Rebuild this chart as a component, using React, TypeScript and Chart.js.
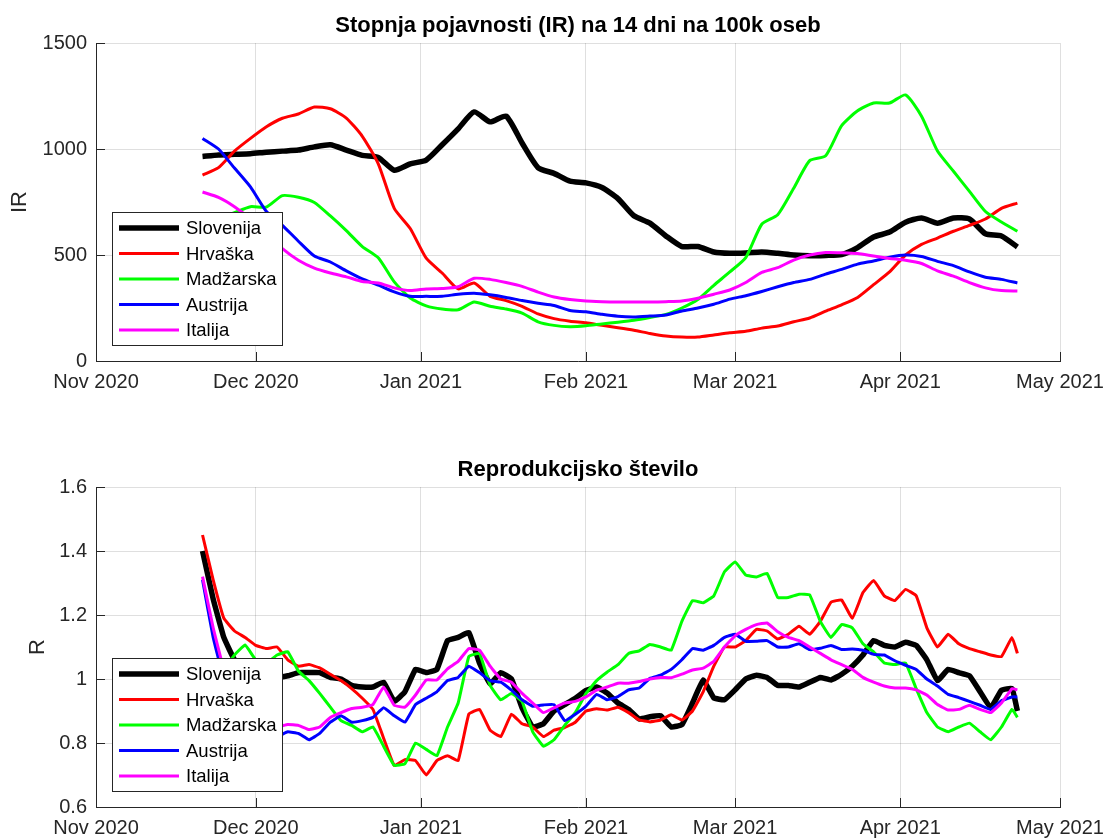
import React, { useEffect, useRef } from "react";
import { Chart, registerables } from "chart.js";

Chart.register(...registerables);

const FONT_FAMILY = '"Liberation Sans", Arial, Helvetica, sans-serif';
const AXIS_COLOR = "#262626";
const GRID_COLOR = "rgba(38,38,38,0.15)";

// x axis: days since 1 Nov 2020
const MONTH_TICK_DAYS = [0, 30, 61, 92, 120, 151, 181];
const MONTH_LABELS = ["Nov 2020", "Dec 2020", "Jan 2021", "Feb 2021", "Mar 2021", "Apr 2021", "May 2021"];

const COUNTRIES = ["Slovenija", "Hrvaška", "Madžarska", "Austrija", "Italija"];
const COLORS = ["#000000", "#ff0000", "#00ff00", "#0000ff", "#ff00ff"];
const LINE_WIDTHS = [5.5, 3, 3, 3, 3];

// ---------- IR (14-day incidence per 100k) ----------
const IR_TITLE = "Stopnja pojavnosti (IR) na 14 dni na 100k oseb";
const IR_TICKS = [0, 500, 1000, 1500];
const IR_TICK_LABELS = ["0", "500", "1000", "1500"];
const IR_DAYS = [
  20, 23, 26, 29, 32, 35, 38, 41, 44, 47, 50, 53, 56, 59, 62, 65, 68, 71, 74, 77,
  80, 83, 86, 89, 92, 95, 98, 101, 104, 107, 110, 113, 116, 119, 122, 125, 128, 131, 134, 137,
  140, 143, 146, 149, 152, 155, 158, 161, 164, 167, 170, 173,
];
const IR_SLO = [
  965, 972, 975, 978, 985, 990, 995, 1010, 1020, 995, 970, 960, 900, 930, 948, 1020, 1095, 1175, 1128, 1155,
  1028, 912, 885, 848, 840, 818, 766, 685, 650, 590, 540, 540, 514, 508, 510, 514, 508, 500, 496, 498,
  502, 535, 585, 608, 655, 675, 650, 675, 670, 600, 590, 538,
];
const IR_HRV = [
  877, 912, 990, 1050, 1105, 1145, 1165, 1198, 1190, 1146, 1060, 930, 720, 625, 485, 415, 340, 368, 305, 285,
  258, 222, 200, 188, 180, 168, 157, 145, 130, 118, 113, 113, 123, 133, 140, 155, 165, 185, 203, 235,
  265, 300, 360, 420, 500, 550, 580, 612, 640, 670, 720, 745,
];
const IR_HUN = [
  640, 670, 700, 728, 726, 780, 772, 748, 684, 615, 540, 487, 373, 297, 260, 245, 242, 278, 258, 245,
  226, 185, 168, 162, 166, 175, 183, 192, 205, 220, 250, 290, 357, 420, 488, 645, 690, 815, 945, 968,
  1110, 1180, 1217, 1217, 1255, 1155, 990, 895, 800, 705, 656, 612,
];
const IR_AUT = [
  1050, 1000, 910, 821, 705, 640, 565, 495, 467, 425, 387, 358, 326, 305, 305, 305, 315, 320, 312, 300,
  285, 272, 262, 238, 232, 220, 211, 208, 212, 217, 236, 250, 268, 292, 308, 328, 350, 370, 385, 410,
  432, 457, 472, 490, 500, 493, 470, 450, 420, 395, 385, 368,
];
const IR_ITA = [
  797, 772, 728, 670, 600, 530, 475, 438, 415, 397, 375, 368, 345, 332, 340, 342, 350, 390, 385, 370,
  352, 325, 302, 290, 283, 280, 278, 278, 278, 280, 283, 296, 315, 335, 370, 418, 440, 476, 500, 512,
  511, 507, 495, 484, 475, 460, 425, 400, 370, 345, 332, 330,
];

// ---------- R (reproduction number) ----------
const R_TITLE = "Reprodukcijsko število";
const R_TICKS = [0.6, 0.8, 1, 1.2, 1.4, 1.6];
const R_TICK_LABELS = ["0.6", "0.8", "1", "1.2", "1.4", "1.6"];
const R_DAYS = [
  20, 22, 24, 26, 28, 30, 32, 34, 36, 38, 40, 42, 44, 46, 48, 50, 52, 54, 56, 58,
  60, 62, 64, 66, 68, 70, 72, 74, 76, 78, 80, 82, 84, 86, 88, 90, 92, 94, 96, 98,
  100, 102, 104, 106, 108, 110, 112, 114, 116, 118, 120, 122, 124, 126, 128, 130, 132, 134, 136, 138,
  140, 142, 144, 146, 148, 150, 152, 154, 156, 158, 160, 162, 164, 166, 168, 170, 172, 173,
];
const R_SLO = [
  1.40, 1.25, 1.13, 1.06, 1.03, 1.02, 1.01, 1.005, 1.01, 1.02,
  1.02, 1.02, 1.005, 1.0, 0.98, 0.975, 0.975, 0.99, 0.93, 0.96,
  1.03, 1.02, 1.03, 1.12, 1.13, 1.145, 1.05, 0.985, 1.02, 1.0,
  0.91, 0.85, 0.86, 0.9, 0.92, 0.94, 0.964, 0.975, 0.956, 0.925,
  0.905, 0.875, 0.882, 0.885, 0.85, 0.857, 0.925, 0.997, 0.941, 0.935,
  0.966, 1.0, 1.012, 1.005, 0.98, 0.98, 0.975, 0.99, 1.005, 0.997,
  1.015, 1.04, 1.075, 1.12, 1.105, 1.1, 1.115, 1.105, 1.06, 0.995,
  1.03, 1.02, 1.01, 0.96, 0.91, 0.965, 0.97, 0.9,
];
const R_HRV = [
  1.45, 1.31, 1.19, 1.15, 1.13, 1.105, 1.095, 1.1, 1.06, 1.04,
  1.045, 1.035, 1.015, 0.995, 0.97, 0.94, 0.905, 0.815, 0.73, 0.748,
  0.745, 0.7, 0.745, 0.76, 0.745, 0.89, 0.905, 0.84, 0.82, 0.89,
  0.86, 0.85, 0.82, 0.84, 0.848, 0.865, 0.9, 0.907, 0.903, 0.912,
  0.895, 0.872, 0.866, 0.872, 0.888, 0.872, 0.9, 0.96, 1.04, 1.1,
  1.1, 1.12, 1.155, 1.15, 1.125, 1.14, 1.165, 1.14, 1.18, 1.24,
  1.247, 1.19, 1.27, 1.308, 1.26, 1.245, 1.28, 1.26, 1.16, 1.1,
  1.14, 1.11, 1.095, 1.085, 1.075, 1.07, 1.13, 1.08,
];
const R_HUN = [
  0.98, 1.0, 1.03, 1.075, 1.106, 1.06, 1.05, 1.075, 1.085, 1.025,
  0.995, 0.955, 0.912, 0.87, 0.855, 0.835, 0.85, 0.79, 0.73, 0.735,
  0.8, 0.78, 0.76, 0.85, 0.925, 1.07, 1.08, 0.98, 0.935, 0.955,
  0.93, 0.835, 0.79, 0.81, 0.855, 0.895, 0.955, 0.995, 1.022, 1.045,
  1.08, 1.088, 1.108, 1.1, 1.09, 1.18, 1.245, 1.238, 1.26, 1.335,
  1.366, 1.325, 1.319, 1.33, 1.255, 1.255, 1.265, 1.263, 1.18, 1.13,
  1.17, 1.16, 1.11, 1.085, 1.05, 1.045, 1.05, 0.97, 0.895, 0.85,
  0.835, 0.85, 0.862, 0.835, 0.81, 0.85, 0.905, 0.88,
];
const R_AUT = [
  1.31, 1.13, 1.0, 0.93, 0.88, 0.86, 0.84, 0.82, 0.835, 0.83,
  0.81, 0.83, 0.865, 0.885, 0.865, 0.87, 0.88, 0.91, 0.885, 0.865,
  0.92, 0.94, 0.96, 0.995, 1.005, 1.04, 1.02, 0.995, 0.99, 0.965,
  0.935, 0.915, 0.919, 0.92, 0.87, 0.89, 0.915, 0.952, 0.935, 0.945,
  0.966, 0.972, 1.002, 1.012, 1.03, 1.06, 1.095, 1.09, 1.105, 1.13,
  1.14, 1.118, 1.118, 1.12, 1.1, 1.1, 1.11, 1.092, 1.096, 1.105,
  1.092, 1.094, 1.09, 1.077, 1.075, 1.057, 1.043, 1.03, 1.0, 0.978,
  0.952, 0.942, 0.93, 0.918, 0.905, 0.932, 0.944, 0.944,
];
const R_ITA = [
  1.32, 1.16, 1.03, 0.95, 0.9, 0.87, 0.86, 0.85, 0.858, 0.855,
  0.842, 0.85, 0.88, 0.895, 0.908, 0.912, 0.92, 0.975, 0.918, 0.912,
  0.95, 0.997, 0.997, 1.032, 1.055, 1.095, 1.09, 1.04, 1.0, 0.99,
  0.955, 0.925, 0.895, 0.91, 0.925, 0.93, 0.944, 0.965, 0.975, 0.987,
  0.987, 0.992, 1.0, 1.005, 1.004, 1.015, 1.028, 1.034, 1.055, 1.1,
  1.135, 1.155, 1.17, 1.175, 1.148, 1.13, 1.12, 1.1, 1.08, 1.06,
  1.045, 1.03, 1.005, 0.99, 0.978, 0.972, 0.972, 0.966, 0.95, 0.92,
  0.903, 0.905, 0.918, 0.905, 0.895, 0.925, 0.97, 0.966,
];

const IR_SERIES = [IR_SLO, IR_HRV, IR_HUN, IR_AUT, IR_ITA];
const R_SERIES = [R_SLO, R_HRV, R_HUN, R_AUT, R_ITA];

// MATLAB-style inward tick marks
const innerTicksPlugin = {
  id: "innerTicks",
  beforeDatasetsDraw(chart: any) {
    const { ctx, chartArea, scales } = chart;
    ctx.save();
    ctx.strokeStyle = AXIS_COLOR;
    ctx.lineWidth = 1;
    ctx.beginPath();
    scales.x.ticks.forEach((t: any) => {
      const px = Math.round(scales.x.getPixelForValue(t.value)) + 0.5;
      ctx.moveTo(px, chartArea.bottom);
      ctx.lineTo(px, chartArea.bottom - 9);
    });
    scales.y.ticks.forEach((t: any) => {
      const py = Math.round(scales.y.getPixelForValue(t.value)) + 0.5;
      ctx.moveTo(chartArea.left, py);
      ctx.lineTo(chartArea.left + 9, py);
    });
    ctx.stroke();
    ctx.restore();
  },
};

// MATLAB-style boxed legend in the south-west corner
const boxLegendPlugin = {
  id: "boxLegend",
  afterDatasetsDraw(chart: any) {
    const { ctx, chartArea } = chart;
    const w = 170;
    const h = 133;
    const x0 = Math.round(chartArea.left + 16);
    const y0 = Math.round(chartArea.bottom - 16 - h);
    ctx.save();
    ctx.fillStyle = "#ffffff";
    ctx.fillRect(x0, y0, w, h);
    ctx.strokeStyle = AXIS_COLOR;
    ctx.lineWidth = 1;
    ctx.strokeRect(x0 + 0.5, y0 + 0.5, w, h);
    ctx.font = `18.5px ${FONT_FAMILY}`;
    ctx.textBaseline = "middle";
    ctx.textAlign = "left";
    chart.data.datasets.forEach((ds: any, i: number) => {
      const y = y0 + 16 + i * 25.5;
      ctx.strokeStyle = ds.borderColor;
      ctx.lineWidth = ds.borderWidth;
      ctx.lineCap = "butt";
      ctx.beginPath();
      ctx.moveTo(x0 + 7, y);
      ctx.lineTo(x0 + 67, y);
      ctx.stroke();
      ctx.fillStyle = "#000000";
      ctx.fillText(ds.label, x0 + 74, y + 1);
    });
    ctx.restore();
  },
};

type PanelSpec = {
  title: string;
  titlePadTop: number;
  yTitle: string;
  yTitlePad: number;
  yMin: number;
  yMax: number;
  yTicks: number[];
  yTickLabels: string[];
  days: number[];
  series: number[][];
  xAxisHeight: number;
  tension: number;
};

function buildConfig(p: PanelSpec): any {
  const datasets = COUNTRIES.map((name, i) => ({
    label: name,
    data: p.days.map((d, j) => ({ x: d, y: p.series[i][j] })),
    borderColor: COLORS[i],
    backgroundColor: COLORS[i],
    borderWidth: LINE_WIDTHS[i],
    pointRadius: 0,
    pointHoverRadius: 0,
    fill: false,
    tension: p.tension,
    borderJoinStyle: "round",
    borderCapStyle: "butt",
    order: COUNTRIES.length - 1 - i,
  }));
  return {
    type: "line",
    data: { datasets },
    options: {
      animation: false,
      responsive: false,
      devicePixelRatio: 1,
      events: [],
      layout: { padding: { left: 0, right: 48, top: 0, bottom: 0 } },
      plugins: {
        legend: { display: false },
        tooltip: { enabled: false },
        title: {
          display: true,
          text: p.title,
          fullSize: false,
          color: "#000000",
          font: { family: FONT_FAMILY, size: 22, weight: "bold", lineHeight: 1.2 },
          padding: { top: p.titlePadTop, bottom: 3.6 },
        },
      },
      scales: {
        x: {
          type: "linear",
          min: 0,
          max: 181,
          afterBuildTicks: (scale: any) => {
            scale.ticks = MONTH_TICK_DAYS.map((v) => ({ value: v }));
          },
          afterFit: (scale: any) => {
            scale.height = p.xAxisHeight;
            scale.paddingLeft = 0;
            scale.paddingRight = 0;
          },
          ticks: {
            autoSkip: false,
            maxRotation: 0,
            minRotation: 0,
            padding: 9,
            color: AXIS_COLOR,
            font: { family: FONT_FAMILY, size: 20 },
            callback: (v: number) => MONTH_LABELS[MONTH_TICK_DAYS.indexOf(v)],
          },
          grid: { color: GRID_COLOR, lineWidth: 1, drawTicks: false },
          border: { display: true, color: AXIS_COLOR, width: 1 },
        },
        y: {
          type: "linear",
          min: p.yMin,
          max: p.yMax,
          afterBuildTicks: (scale: any) => {
            scale.ticks = p.yTicks.map((v) => ({ value: v }));
          },
          afterFit: (scale: any) => {
            scale.width = 96;
            scale.paddingTop = 0;
            scale.paddingBottom = 0;
          },
          ticks: {
            padding: 9,
            color: AXIS_COLOR,
            font: { family: FONT_FAMILY, size: 20 },
            callback: (v: number) => {
              const idx = p.yTicks.findIndex((t) => Math.abs(t - v) < 1e-9);
              return idx >= 0 ? p.yTickLabels[idx] : "";
            },
          },
          grid: { color: GRID_COLOR, lineWidth: 1, drawTicks: false },
          border: { display: true, color: AXIS_COLOR, width: 1 },
          title: {
            display: true,
            text: p.yTitle,
            color: AXIS_COLOR,
            font: { family: FONT_FAMILY, size: 22, lineHeight: 1.2 },
            padding: { top: p.yTitlePad, bottom: 0 },
          },
        },
      },
    },
    plugins: [innerTicksPlugin, boxLegendPlugin],
  };
}

function Panel({ spec, top }: { spec: PanelSpec; top: number }) {
  const ref = useRef<HTMLCanvasElement | null>(null);
  useEffect(() => {
    if (!ref.current) return;
    const chart = new Chart(ref.current, buildConfig(spec));
    return () => chart.destroy();
  }, []);
  return (
    <canvas
      ref={ref}
      width={1108}
      height={420}
      style={{ position: "absolute", left: 0, top, width: 1108, height: 420, display: "block" }}
    />
  );
}

const IR_PANEL: PanelSpec = {
  title: IR_TITLE,
  titlePadTop: 13,
  yTitle: "IR",
  yTitlePad: 7,
  yMin: 0,
  yMax: 1500,
  yTicks: IR_TICKS,
  yTickLabels: IR_TICK_LABELS,
  days: IR_DAYS,
  series: IR_SERIES,
  xAxisHeight: 59,
  tension: 0.2,
};

const R_PANEL: PanelSpec = {
  title: R_TITLE,
  titlePadTop: 37,
  yTitle: "R",
  yTitlePad: 25,
  yMin: 0.6,
  yMax: 1.6,
  yTicks: R_TICKS,
  yTickLabels: R_TICK_LABELS,
  days: R_DAYS,
  series: R_SERIES,
  xAxisHeight: 33,
  tension: 0.1,
};

export default function App() {
  return (
    <div style={{ position: "absolute", left: 0, top: 0, width: 1108, height: 840, background: "#ffffff" }}>
      <Panel spec={IR_PANEL} top={0} />
      <Panel spec={R_PANEL} top={420} />
    </div>
  );
}
